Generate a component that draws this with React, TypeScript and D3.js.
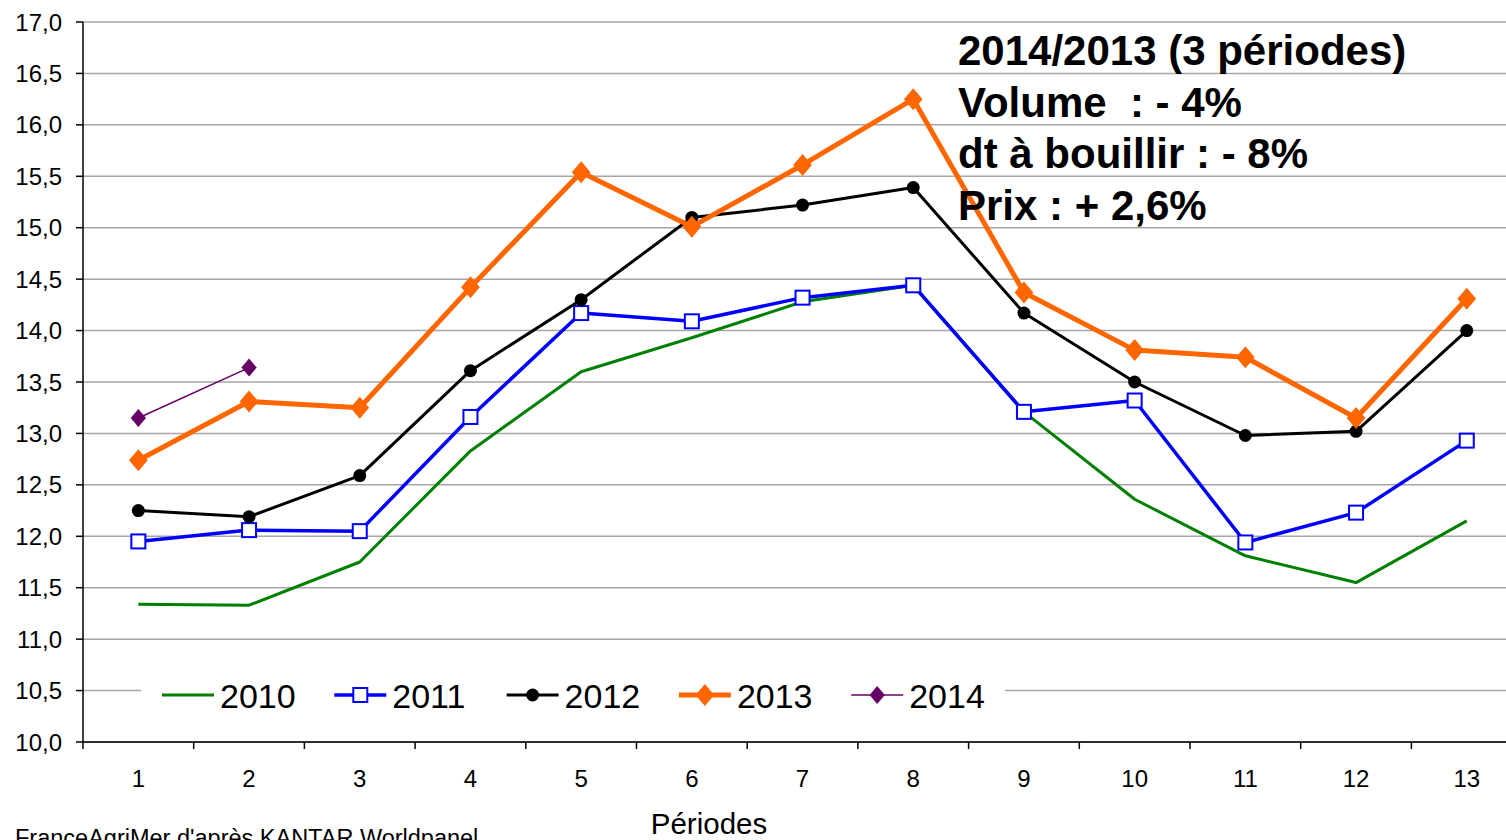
import React from "react";
import * as d3 from "d3";

// Periodes 1..13
const periods = ["1", "2", "3", "4", "5", "6", "7", "8", "9", "10", "11", "12", "13"];
const yTicks = [10, 10.5, 11, 11.5, 12, 12.5, 13, 13.5, 14, 14.5, 15, 15.5, 16, 16.5, 17];

const v2010 = [11.34, 11.33, 11.75, 12.83, 13.6, 13.93, 14.28, 14.44, 13.21, 12.36, 11.81, 11.55, 12.15];
const v2011 = [11.95, 12.06, 12.05, 13.16, 14.17, 14.09, 14.32, 14.44, 13.21, 13.32, 11.94, 12.23, 12.93];
const v2012 = [12.25, 12.19, 12.59, 13.61, 14.3, 15.1, 15.22, 15.39, 14.17, 13.5, 12.98, 13.02, 14.0];
const v2013 = [12.74, 13.31, 13.25, 14.42, 15.54, 15.01, 15.61, 16.25, 14.37, 13.81, 13.74, 13.15, 14.31];
const v2014 = [13.15, 13.64];

const annotation = ["2014/2013 (3 périodes)", "Volume  : - 4%", "dt à bouillir : - 8%", "Prix : + 2,6%"];

type Marker = "none" | "square" | "circle" | "diamond";
const series: { name: string; values: number[]; color: string; width: number; marker: Marker; size: number }[] = [
  { name: "2010", values: v2010, color: "#008000", width: 3, marker: "none", size: 0 },
  { name: "2011", values: v2011, color: "#0000ff", width: 3.5, marker: "square", size: 14 },
  { name: "2012", values: v2012, color: "#000000", width: 3, marker: "circle", size: 6.5 },
  { name: "2013", values: v2013, color: "#ff6600", width: 5, marker: "diamond", size: 11 },
  { name: "2014", values: v2014, color: "#660066", width: 1.5, marker: "diamond", size: 9 },
];

const W = 1506;
const H = 840;
const left = 83;
const top = 22;
const bottom = 742;

const x = d3.scaleBand<string>().domain(periods).range([left, left + 13 * 110.7]);
const y = d3.scaleLinear().domain([10, 17]).range([bottom, top]);
const cx = (i: number) => (x(periods[i]) as number) + x.bandwidth() / 2;

const fmt = (v: number) => v.toFixed(1).replace(".", ",");

function MarkerShape({ m, px, py, color, size }: { m: Marker; px: number; py: number; color: string; size: number }) {
  if (m === "square")
    return <rect x={px - size / 2} y={py - size / 2} width={size} height={size} fill="#fff" stroke={color} strokeWidth={2} />;
  if (m === "circle") return <circle cx={px} cy={py} r={size} fill={color} />;
  if (m === "diamond")
    return <path d={`M${px},${py - size}L${px + size * 0.85},${py}L${px},${py + size}L${px - size * 0.85},${py}Z`} fill={color} />;
  return null;
}

export default function App() {
  const line = d3
    .line<number>()
    .x((_, i) => cx(i))
    .y((d) => y(d));

  return (
    <svg
      width={W}
      height={H}
      style={{ position: "absolute", left: 0, top: 0, background: "#fff" }}
      fontFamily="'Liberation Sans', Arial, sans-serif"
    >
      <rect width={W} height={H} fill="#fff" />
      {/* grid */}
      {yTicks.map((t) => (
        <line key={t} x1={left} x2={W} y1={y(t)} y2={y(t)} stroke="#a6a6a6" strokeWidth={1.5} />
      ))}
      {/* legend box background */}
      <rect x={141} y={670} width={864} height={50} fill="#fff" />
      {/* axes */}
      <line x1={left} x2={left} y1={top} y2={bottom} stroke="#000" strokeWidth={1.5} />
      <line x1={left} x2={W} y1={bottom} y2={bottom} stroke="#000" strokeWidth={1.5} />
      {yTicks.map((t) => (
        <g key={"yt" + t}>
          <line x1={left - 7} x2={left} y1={y(t)} y2={y(t)} stroke="#000" strokeWidth={1.5} />
          <text x={62} y={y(t) + 8.5} textAnchor="end" fontSize={24}>
            {fmt(t)}
          </text>
        </g>
      ))}
      {periods.map((p, i) => (
        <g key={"xt" + p}>
          <line
            x1={x(p) as number}
            x2={x(p) as number}
            y1={bottom}
            y2={bottom + 7}
            stroke="#000"
            strokeWidth={1.5}
          />
          <text x={cx(i)} y={787} textAnchor="middle" fontSize={24}>
            {p}
          </text>
        </g>
      ))}
      <text x={709} y={834} textAnchor="middle" fontSize={29.5}>
        Périodes
      </text>
      <text x={15} y={846} fontSize={23.5}>
        FranceAgriMer d'après KANTAR Worldpanel
      </text>

      {/* series */}
      {series.map((s) => (
        <g key={s.name}>
          <path d={line(s.values) as string} fill="none" stroke={s.color} strokeWidth={s.width} strokeLinejoin="round" />
          {s.values.map((v, i) => (
            <MarkerShape key={i} m={s.marker} px={cx(i)} py={y(v)} color={s.color} size={s.size} />
          ))}
        </g>
      ))}

      {/* legend */}
      {series.map((s, i) => {
        const lx = 162 + i * 172.3;
        const ly = 695;
        return (
          <g key={"lg" + s.name}>
            <line x1={lx} x2={lx + 52} y1={ly} y2={ly} stroke={s.color} strokeWidth={s.width} />
            <MarkerShape m={s.marker} px={lx + 26} py={ly} color={s.color} size={s.size} />
            <text x={lx + 58} y={ly + 12.5} fontSize={34}>
              {s.name}
            </text>
          </g>
        );
      })}

      {/* annotation */}
      {annotation.map((t, i) => (
        <text key={t} x={958} y={65 + i * 51.5} fontSize={42} fontWeight="bold" style={{ whiteSpace: "pre" }}>
          {t}
        </text>
      ))}
    </svg>
  );
}
